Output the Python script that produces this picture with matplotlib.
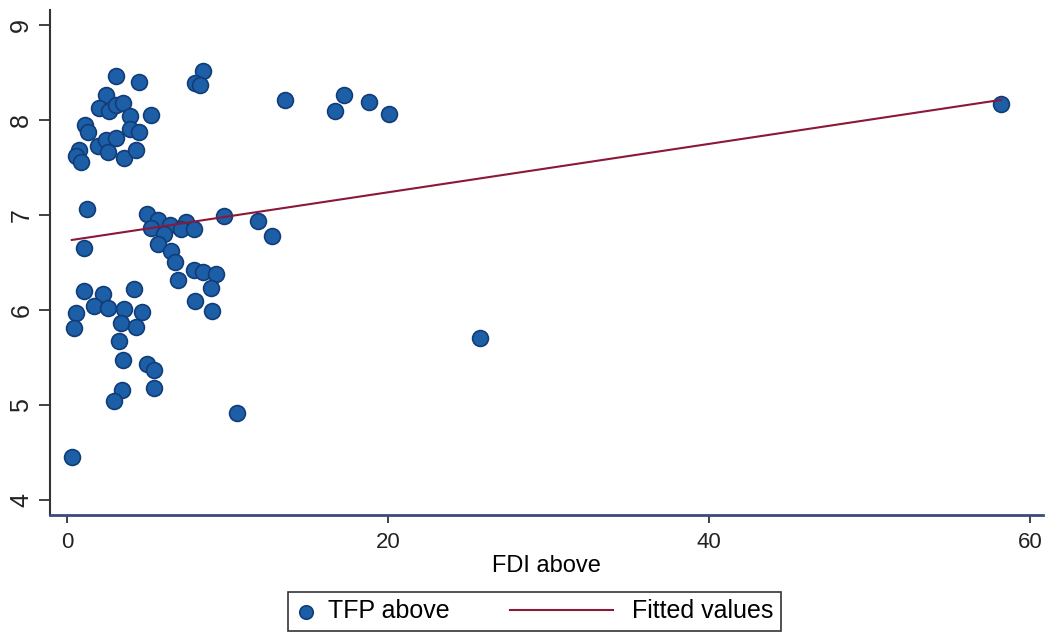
import numpy as np
import matplotlib
matplotlib.use('Agg')
import matplotlib.pyplot as plt
from matplotlib.lines import Line2D
from matplotlib.legend_handler import HandlerLine2D

plt.rcParams['font.family'] = ['Liberation Sans', 'DejaVu Sans']

# FDI above (x) and TFP above (y)
fdi = [3.06, 4.5, 8.5, 8.0, 8.3, 2.44, 2.0, 2.6, 3.06, 3.5,
       3.94, 5.25, 1.12, 1.31, 3.94, 4.5, 0.75, 0.56, 0.88, 1.94,
       2.44, 3.06, 2.56, 3.56, 4.31, 1.25,
       5.0, 5.7, 5.25, 6.4, 6.06, 7.44, 7.1, 7.9, 9.8, 11.9,
       12.8, 1.06, 5.7, 6.5, 6.7, 6.9, 7.94, 8.5, 9.3, 8.94,
       8.0, 9.06, 1.06, 2.25, 1.7, 2.56, 3.56, 4.19, 4.69, 3.38,
       4.31, 0.56, 0.44, 3.25, 3.5, 5.0, 5.44, 5.44, 3.44, 2.94,
       10.56, 0.31, 13.6, 17.25, 16.7, 18.8, 20.06, 25.7, 58.2]
tfp = [8.46, 8.40, 8.52, 8.39, 8.37, 8.27, 8.13, 8.10, 8.16, 8.18,
       8.04, 8.05, 7.95, 7.88, 7.91, 7.88, 7.69, 7.62, 7.56, 7.73,
       7.79, 7.81, 7.66, 7.60, 7.69, 7.06,
       7.01, 6.95, 6.86, 6.90, 6.80, 6.93, 6.85, 6.85, 6.99, 6.94,
       6.78, 6.65, 6.70, 6.62, 6.51, 6.32, 6.42, 6.40, 6.38, 6.23,
       6.09, 5.99, 6.20, 6.17, 6.04, 6.02, 6.01, 6.22, 5.98, 5.86,
       5.82, 5.97, 5.81, 5.67, 5.47, 5.43, 5.37, 5.18, 5.16, 5.04,
       4.92, 4.45, 8.21, 8.27, 8.10, 8.19, 8.06, 5.71, 8.17]

# fitted line as drawn in the picture
fit_intercept = 6.73
fit_slope = 0.0255

x = np.array(fdi)
y = np.array(tfp)
xf = np.array([0.3, x.max()])
yf = fit_intercept + fit_slope * xf


class LongLine(HandlerLine2D):
    # line handle that reaches further left than the handle box
    def create_artists(self, legend, orig_handle, xdescent, ydescent, width, height, fontsize, trans):
        yy = height / 2 - ydescent
        line = Line2D([-3.6 * fontsize, width - 0.25 * fontsize], [yy, yy])
        self.update_prop(line, orig_handle, legend)
        line.set_transform(trans)
        return [line]


fig = plt.figure(figsize=(10.52, 6.32), dpi=100)
ax = fig.add_axes([0.0475, 0.1851, 0.944, 0.799])

ax.scatter(x, y, s=130, color='#1c5fa6', edgecolors='#123c78', linewidths=1.2,
           zorder=2, label='TFP above')
ax.plot(xf, yf, color='#8c1838', lw=1.5, zorder=3, label='Fitted values')

ax.set_xlim(-1.06, 60.8)
ax.set_ylim(3.84, 9.16)
ax.set_xticks([0, 20, 40, 60])
ax.set_yticks([4, 5, 6, 7, 8, 9])
ax.tick_params(axis='x', direction='out', length=6, width=1.2, labelsize=16, colors='#222222', pad=6)
ax.tick_params(axis='y', direction='out', length=8, width=1.2, labelsize=18, colors='#222222', pad=4)
for lab in ax.get_yticklabels():
    lab.set_rotation(90)
    lab.set_va('center')
ax.spines['top'].set_visible(False)
ax.spines['right'].set_visible(False)
ax.spines['left'].set_color('#333333')
ax.spines['bottom'].set_color('#3a4a7a')
ax.spines['left'].set_linewidth(1.5)
ax.spines['bottom'].set_linewidth(2)
ax.set_xlabel('FDI above', fontsize=17, labelpad=2)

handles, labels = ax.get_legend_handles_labels()
leg = fig.legend(handles, labels, loc='upper left', bbox_to_anchor=(0.2738, 0.0633),
                 borderaxespad=0, ncol=2, frameon=True, fancybox=False, edgecolor='black',
                 fontsize=18, columnspacing=6.0, handlelength=0.8, handletextpad=0.5,
                 markerscale=0.85, borderpad=0.3, handler_map={Line2D: LongLine()})
leg.get_frame().set_linewidth(1.2)

fig.savefig('out.png', dpi=100)
